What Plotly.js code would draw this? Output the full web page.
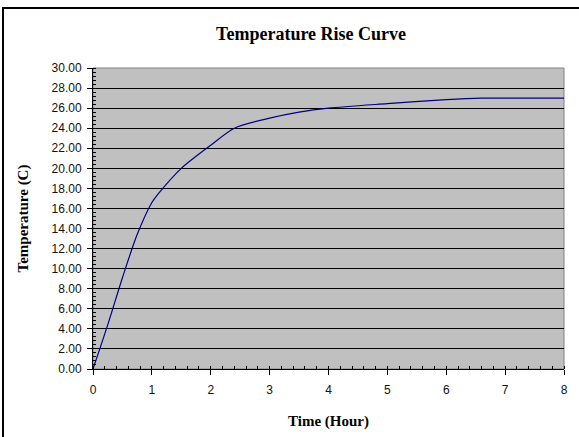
<!DOCTYPE html>
<html>
<head>
<meta charset="utf-8">
<script src="https://cdn.plot.ly/plotly-3.0.1.min.js"></script>
<style>
  html, body { margin: 0; padding: 0; background: #ffffff; }
  #wrap { position: relative; width: 579px; height: 437px; overflow: hidden; }
  #chart { position: absolute; left: 0; top: 0; width: 579px; height: 437px; }
  #frame { position: absolute; left: 2px; top: 7px; width: 600px; height: 460px;
           border-left: 2px solid #000; border-top: 2px solid #000; pointer-events: none; }
</style>
</head>
<body>
<div id="wrap">
  <div id="chart"></div>
  <div id="frame"></div>
</div>
<script>
// Data
const timeHours = [0, 0.25, 0.5, 0.75, 1.0, 1.1, 1.5, 2.0, 2.4, 3.0, 3.5, 4.0, 5.0, 6.0, 6.6, 7.0, 8.0];
const temperatureC = [0, 4.4, 9.1, 13.4, 16.6, 17.4, 20.0, 22.3, 24.0, 25.0, 25.6, 26.0, 26.45, 26.85, 27.0, 27.0, 27.0];
const chartTitle = 'Temperature Rise Curve';
const xTitle = 'Time (Hour)';
const yTitle = 'Temperature (C)';

const serif = '"Liberation Serif", "Times New Roman", serif';
const sans = '"Liberation Sans", Arial, sans-serif';

const trace = {
  x: timeHours,
  y: temperatureC,
  type: 'scatter',
  mode: 'lines',
  line: { color: '#000080', width: 1.2, shape: 'spline', smoothing: 0.8 },
  hoverinfo: 'skip'
};

const layout = {
  width: 579,
  height: 437,
  margin: { l: 93, r: 15, t: 68, b: 68, pad: 0 },
  paper_bgcolor: '#ffffff',
  plot_bgcolor: '#c0c0c0',
  showlegend: false,
  title: {
    text: '<b>' + chartTitle + '</b>',
    font: { family: serif, size: 18, color: '#000' },
    x: 0.463, xref: 'paper', xanchor: 'center',
    y: 41, yref: 'container', yanchor: 'middle'
  },
  xaxis: {
    range: [0, 8],
    dtick: 1,
    showgrid: false,
    zeroline: false,
    showline: true, linecolor: '#000', linewidth: 1,
    ticks: 'outside', ticklen: 5, tickcolor: '#000', tickwidth: 1,
    ticklabelstandoff: 5,
    minor: { ticks: 'inside', ticklen: 3, dtick: 0.2, tickcolor: '#000', showgrid: false },
    tickfont: { family: sans, size: 12, color: '#111' },
    title: { text: '<b>' + xTitle + '</b>', font: { family: serif, size: 15, color: '#000' }, standoff: 19 }
  },
  yaxis: {
    range: [0, 30],
    dtick: 2,
    tickformat: '.2f',
    showgrid: true, gridcolor: '#000', gridwidth: 1,
    zeroline: false,
    showline: true, linecolor: '#000', linewidth: 1,
    ticks: 'outside', ticklen: 5, tickcolor: '#000', tickwidth: 1,
    ticklabelstandoff: 3,
    minor: { ticks: 'inside', ticklen: 3, dtick: 0.4, tickcolor: '#000', showgrid: false },
    tickfont: { family: sans, size: 12, color: '#111' },
    title: { text: '<b>' + yTitle + '</b>', font: { family: serif, size: 15, color: '#000' }, standoff: 19 }
  },
  shapes: [{
    type: 'rect', xref: 'paper', yref: 'paper', x0: 0, x1: 1, y0: 0, y1: 1,
    line: { color: '#808080', width: 1 }, layer: 'below'
  }]
};

Plotly.newPlot('chart', [trace], layout, { displayModeBar: false, staticPlot: true });
</script>
</body>
</html>
